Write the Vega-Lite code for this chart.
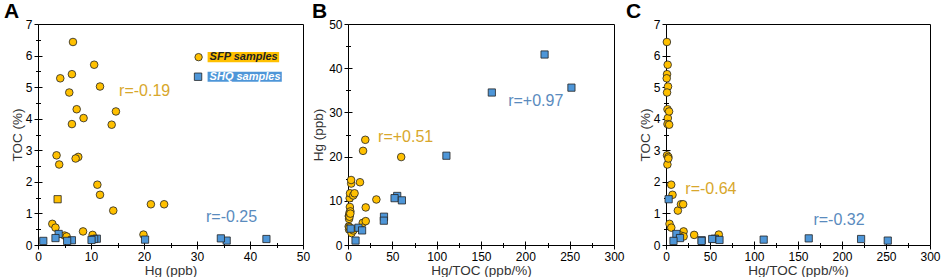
{
  "$schema": "https://vega.github.io/schema/vega-lite/v6.json",
  "padding": {"left": 3, "top": 0, "right": 0, "bottom": 0},
  "spacing": 0,
  "config": {
    "font": "Liberation Sans",
    "view": {"stroke": "#000000", "strokeWidth": 1},
    "axis": {"labelFont": "Liberation Sans", "labelFontSize": 12, "labelColor": "#000000", "titleFont": "Liberation Sans", "titleFontSize": 13.5, "titleFontWeight": "normal", "titleColor": "#333333", "tickColor": "#000000", "tickWidth": 1, "grid": false, "domain": false, "labelFlush": false, "labelOverlap": false, "format": "d"}
  },
  "datasets": {
    "samples": [
      {"g": "SFP", "hg": 6.6, "toc": 6.43, "ratio": 1.0},
      {"g": "SFP", "hg": 10.6, "toc": 5.71, "ratio": 1.9},
      {"g": "SFP", "hg": 6.4, "toc": 5.41, "ratio": 1.2},
      {"g": "SFP", "hg": 4.2, "toc": 5.28, "ratio": 0.8},
      {"g": "SFP", "hg": 11.7, "toc": 5.02, "ratio": 2.3},
      {"g": "SFP", "hg": 5.9, "toc": 4.83, "ratio": 1.2},
      {"g": "SFP", "hg": 7.3, "toc": 4.3, "ratio": 1.7},
      {"g": "SFP", "hg": 8.6, "toc": 4.02, "ratio": 2.1},
      {"g": "SFP", "hg": 6.4, "toc": 3.83, "ratio": 1.7},
      {"g": "SFP", "hg": 13.9, "toc": 3.81, "ratio": 3.6},
      {"g": "SFP", "hg": 14.7, "toc": 4.23, "ratio": 3.5},
      {"g": "SFP", "hg": 3.5, "toc": 2.84, "ratio": 1.2},
      {"g": "SFP", "hg": 4.0, "toc": 2.55, "ratio": 1.6},
      {"g": "SFP", "hg": 7.6, "toc": 2.79, "ratio": 2.7},
      {"g": "SFP", "hg": 7.1, "toc": 2.74, "ratio": 2.6},
      {"g": "SFP", "hg": 11.2, "toc": 1.91, "ratio": 5.9},
      {"g": "SFP", "hg": 11.7, "toc": 1.59, "ratio": 7.4},
      {"g": "SFP", "hg": 14.2, "toc": 1.09, "ratio": 13.5},
      {"g": "SFP", "hg": 21.3, "toc": 1.29, "ratio": 17.0},
      {"g": "SFP", "hg": 23.8, "toc": 1.29, "ratio": 19.5},
      {"g": "SFP", "hg": 2.7, "toc": 0.67, "ratio": 4.0},
      {"g": "SFP", "hg": 3.3, "toc": 0.55, "ratio": 6.0},
      {"g": "SFP", "hg": 8.5, "toc": 0.43, "ratio": 20.0},
      {"g": "SFP", "hg": 10.3, "toc": 0.32, "ratio": 32.0},
      {"g": "SFP", "hg": 19.9, "toc": 0.33, "ratio": 60.0},
      {"g": "SFP", "hg": 5.0, "toc": 0.3, "ratio": 16.6},
      {"g": "SFP", "hg": 5.4, "toc": 0.27, "ratio": 20.0},
      {"g": "SHQ", "hg": 43.1, "toc": 0.19, "ratio": 221.7},
      {"g": "SHQ", "hg": 35.6, "toc": 0.14, "ratio": 252.0},
      {"g": "SHQ", "hg": 34.5, "toc": 0.21, "ratio": 162.2},
      {"g": "SHQ", "hg": 20.2, "toc": 0.17, "ratio": 111.0},
      {"g": "SHQ", "hg": 11.1, "toc": 0.2, "ratio": 55.5},
      {"g": "SHQ", "hg": 10.6, "toc": 0.19, "ratio": 52.5},
      {"g": "SHQ", "hg": 10.1, "toc": 0.16, "ratio": 60.8},
      {"g": "SHQ", "hg": 6.4, "toc": 0.15, "ratio": 40.6},
      {"g": "SHQ", "hg": 5.5, "toc": 0.13, "ratio": 40.4},
      {"g": "SHQ", "hg": 3.9, "toc": 0.35, "ratio": 11.8},
      {"g": "SHQ", "hg": 3.3, "toc": 0.22, "ratio": 15.9},
      {"g": "SHQ", "hg": 3.7, "toc": 1.45, "ratio": 3.0},
      {"g": "SHQ", "hg": 1.0, "toc": 0.13, "ratio": 8.5}
    ],
    "notes": [
      {"panel": "A", "g": "SFP", "text": "r=-0.19", "x": 15.3, "y": 4.89},
      {"panel": "A", "g": "SHQ", "text": "r=-0.25", "x": 31.7, "y": 0.9},
      {"panel": "B", "g": "SFP", "text": "r=+0.51", "x": 33.9, "y": 24.4},
      {"panel": "B", "g": "SHQ", "text": "r=+0.97", "x": 180.6, "y": 32.6},
      {"panel": "C", "g": "SFP", "text": "r=-0.64", "x": 22, "y": 1.77},
      {"panel": "C", "g": "SHQ", "text": "r=-0.32", "x": 167.5, "y": 0.79}
    ],
    "legend": [
      {"g": "SFP", "label": "SFP samples", "sx": 30.3, "sy": 5.95, "x1": 32.0, "x2": 45.5, "y1": 5.79, "y2": 6.11, "ty": 5.95},
      {"g": "SHQ", "label": "SHQ samples", "sx": 30.2, "sy": 5.33, "x1": 32.0, "x2": 46.0, "y1": 5.17, "y2": 5.49, "ty": 5.33}
    ]
  },
  "hconcat": [
    {
      "width": 265, "height": 221,
      "title": {"text": "A", "anchor": "start", "frame": "group", "dx": -34, "offset": -4, "fontSize": 21, "fontWeight": "bold", "font": "Liberation Sans", "color": "#000000"},
      "resolve": {"axis": {"x": "independent", "y": "independent"}},
      "layer": [
        {
          "data": {"name": "samples"},
          "transform": [{"filter": "datum.g === 'SFP'"}],
          "mark": {"type": "point", "shape": "circle", "filled": true, "fill": "#FFC000", "stroke": "#222222", "strokeWidth": 0.8, "size": 58, "opacity": 1},
          "encoding": {
            "x": {"field": "hg", "type": "quantitative", "scale": {"domain": [0, 50], "nice": false, "zero": false},
              "axis": {"orient": "bottom", "title": "Hg (ppb)", "values": [0, 5, 10, 15, 20, 25, 30, 35, 40, 45, 50], "labelExpr": "datum.value % 10 === 0 ? datum.label : ''", "tickSize": {"condition": {"test": "datum.value % 10 === 0", "value": 4}, "value": 2.5}, "labelPadding": 2, "titlePadding": 1}},
            "y": {"field": "toc", "type": "quantitative", "scale": {"domain": [0, 7], "nice": false, "zero": false},
              "axis": {"orient": "left", "title": "TOC (%)", "values": [0, 0.5, 1, 1.5, 2, 2.5, 3, 3.5, 4, 4.5, 5, 5.5, 6, 6.5, 7], "labelExpr": "datum.value % 1 === 0 ? datum.label : ''", "tickSize": {"condition": {"test": "datum.value % 1 === 0", "value": 4}, "value": 2.5}, "labelPadding": 2, "titlePadding": 1}}
          }
        },
        {
          "data": {"name": "samples"},
          "transform": [{"filter": "datum.g === 'SHQ'"}],
          "mark": {"type": "point", "shape": "square", "filled": true, "stroke": "#222222", "strokeWidth": 0.8, "size": 52, "opacity": 1},
          "encoding": {
            "x": {"field": "hg", "type": "quantitative", "scale": {"domain": [0, 50], "nice": false, "zero": false},
              "axis": {"orient": "bottom", "title": null, "labels": false, "values": [0, 5, 10, 15, 20, 25, 30, 35, 40, 45, 50], "tickSize": {"condition": {"test": "datum.value % 10 === 0", "value": -4}, "value": -2.5}}},
            "y": {"field": "toc", "type": "quantitative", "scale": {"domain": [0, 7], "nice": false, "zero": false},
              "axis": {"orient": "left", "title": null, "labels": false, "values": [0, 0.5, 1, 1.5, 2, 2.5, 3, 3.5, 4, 4.5, 5, 5.5, 6, 6.5, 7], "tickSize": {"condition": {"test": "datum.value % 1 === 0", "value": -4}, "value": -2.5}}},
            "fill": {"condition": {"test": "datum.toc > 1", "value": "#FFC000"}, "value": "#4E96D8"}
          }
        },
        {
          "data": {"name": "legend"},
          "mark": {"type": "rect"},
          "encoding": {
            "x": {"field": "x1", "type": "quantitative", "axis": null},
            "x2": {"field": "x2"},
            "y": {"field": "y1", "type": "quantitative", "axis": null},
            "y2": {"field": "y2"},
            "fill": {"condition": {"test": "datum.g === 'SFP'", "value": "#FFC000"}, "value": "#4E96D8"}
          }
        },
        {
          "data": {"name": "legend"},
          "mark": {"type": "point", "filled": true, "stroke": "#222222", "strokeWidth": 0.8, "size": 55, "opacity": 1},
          "encoding": {
            "x": {"field": "sx", "type": "quantitative", "axis": null},
            "y": {"field": "sy", "type": "quantitative", "axis": null},
            "shape": {"field": "g", "type": "nominal", "scale": {"domain": ["SFP", "SHQ"], "range": ["circle", "square"]}, "legend": null},
            "fill": {"condition": {"test": "datum.g === 'SFP'", "value": "#FFC000"}, "value": "#4E96D8"}
          }
        },
        {
          "data": {"name": "legend"},
          "mark": {"type": "text", "align": "left", "baseline": "middle", "dx": 2, "fontSize": 11, "fontWeight": "bold", "fontStyle": "italic", "font": "Liberation Sans"},
          "encoding": {
            "x": {"field": "x1", "type": "quantitative", "axis": null},
            "y": {"field": "ty", "type": "quantitative", "axis": null},
            "text": {"field": "label"},
            "color": {"condition": {"test": "datum.g === 'SFP'", "value": "#222222"}, "value": "#ffffff"}
          }
        },
        {
          "data": {"name": "notes"},
          "transform": [{"filter": "datum.panel === 'A'"}],
          "mark": {"type": "text", "align": "left", "baseline": "middle", "fontSize": 16, "font": "Liberation Sans"},
          "encoding": {
            "x": {"field": "x", "type": "quantitative", "axis": null},
            "y": {"field": "y", "type": "quantitative", "axis": null},
            "text": {"field": "text"},
            "color": {"condition": {"test": "datum.g === 'SFP'", "value": "#D8A72C"}, "value": "#5A8BBE"}
          }
        }
      ]
    },
    {
      "width": 266, "height": 221,
      "title": {"text": "B", "anchor": "start", "frame": "group", "dx": -36, "offset": -4, "fontSize": 21, "fontWeight": "bold", "font": "Liberation Sans", "color": "#000000"},
      "resolve": {"axis": {"x": "independent", "y": "independent"}},
      "layer": [
        {
          "data": {"name": "samples"},
          "transform": [{"filter": "datum.g === 'SFP'"}],
          "mark": {"type": "point", "shape": "circle", "filled": true, "fill": "#FFC000", "stroke": "#222222", "strokeWidth": 0.8, "size": 58, "opacity": 1},
          "encoding": {
            "x": {"field": "ratio", "type": "quantitative", "scale": {"domain": [0, 300], "nice": false, "zero": false},
              "axis": {"orient": "bottom", "title": "Hg/TOC (ppb/%)", "values": [0, 25, 50, 75, 100, 125, 150, 175, 200, 225, 250, 275, 300], "labelExpr": "datum.value % 50 === 0 ? datum.label : ''", "tickSize": {"condition": {"test": "datum.value % 50 === 0", "value": 4}, "value": 2.5}, "labelPadding": 2, "titlePadding": 1}},
            "y": {"field": "hg", "type": "quantitative", "scale": {"domain": [0, 50], "nice": false, "zero": false},
              "axis": {"orient": "left", "title": "Hg (ppb)", "values": [0, 5, 10, 15, 20, 25, 30, 35, 40, 45, 50], "labelExpr": "datum.value % 10 === 0 ? datum.label : ''", "tickSize": {"condition": {"test": "datum.value % 10 === 0", "value": 4}, "value": 2.5}, "labelPadding": 2, "titlePadding": 3}}
          }
        },
        {
          "data": {"name": "samples"},
          "transform": [{"filter": "datum.g === 'SHQ'"}],
          "mark": {"type": "point", "shape": "square", "filled": true, "fill": "#4E96D8", "stroke": "#222222", "strokeWidth": 0.8, "size": 52, "opacity": 1},
          "encoding": {
            "x": {"field": "ratio", "type": "quantitative", "scale": {"domain": [0, 300], "nice": false, "zero": false},
              "axis": {"orient": "bottom", "title": null, "labels": false, "values": [0, 25, 50, 75, 100, 125, 150, 175, 200, 225, 250, 275, 300], "tickSize": {"condition": {"test": "datum.value % 50 === 0", "value": -4}, "value": -2.5}}},
            "y": {"field": "hg", "type": "quantitative", "scale": {"domain": [0, 50], "nice": false, "zero": false},
              "axis": {"orient": "left", "title": null, "labels": false, "values": [0, 5, 10, 15, 20, 25, 30, 35, 40, 45, 50], "tickSize": {"condition": {"test": "datum.value % 10 === 0", "value": -4}, "value": -2.5}}}
          }
        },
        {
          "data": {"name": "notes"},
          "transform": [{"filter": "datum.panel === 'B'"}],
          "mark": {"type": "text", "align": "left", "baseline": "middle", "fontSize": 16, "font": "Liberation Sans"},
          "encoding": {
            "x": {"field": "x", "type": "quantitative", "axis": null},
            "y": {"field": "y", "type": "quantitative", "axis": null},
            "text": {"field": "text"},
            "color": {"condition": {"test": "datum.g === 'SFP'", "value": "#D8A72C"}, "value": "#5A8BBE"}
          }
        }
      ]
    },
    {
      "width": 264, "height": 221,
      "title": {"text": "C", "anchor": "start", "frame": "group", "dx": -40, "offset": -4, "fontSize": 21, "fontWeight": "bold", "font": "Liberation Sans", "color": "#000000"},
      "resolve": {"axis": {"x": "independent", "y": "independent"}},
      "layer": [
        {
          "data": {"name": "samples"},
          "transform": [{"filter": "datum.g === 'SFP'"}],
          "mark": {"type": "point", "shape": "circle", "filled": true, "fill": "#FFC000", "stroke": "#222222", "strokeWidth": 0.8, "size": 58, "opacity": 1},
          "encoding": {
            "x": {"field": "ratio", "type": "quantitative", "scale": {"domain": [0, 300], "nice": false, "zero": false},
              "axis": {"orient": "bottom", "title": "Hg/TOC (ppb/%)", "values": [0, 25, 50, 75, 100, 125, 150, 175, 200, 225, 250, 275, 300], "labelExpr": "datum.value % 50 === 0 ? datum.label : ''", "tickSize": {"condition": {"test": "datum.value % 50 === 0", "value": 4}, "value": 2.5}, "labelPadding": 2, "titlePadding": 1}},
            "y": {"field": "toc", "type": "quantitative", "scale": {"domain": [0, 7], "nice": false, "zero": false},
              "axis": {"orient": "left", "title": "TOC (%)", "values": [0, 0.5, 1, 1.5, 2, 2.5, 3, 3.5, 4, 4.5, 5, 5.5, 6, 6.5, 7], "labelExpr": "datum.value % 1 === 0 ? datum.label : ''", "tickSize": {"condition": {"test": "datum.value % 1 === 0", "value": 4}, "value": 2.5}, "labelPadding": 2, "titlePadding": 1}}
          }
        },
        {
          "data": {"name": "samples"},
          "transform": [{"filter": "datum.g === 'SHQ'"}],
          "mark": {"type": "point", "shape": "square", "filled": true, "fill": "#4E96D8", "stroke": "#222222", "strokeWidth": 0.8, "size": 52, "opacity": 1},
          "encoding": {
            "x": {"field": "ratio", "type": "quantitative", "scale": {"domain": [0, 300], "nice": false, "zero": false},
              "axis": {"orient": "bottom", "title": null, "labels": false, "values": [0, 25, 50, 75, 100, 125, 150, 175, 200, 225, 250, 275, 300], "tickSize": {"condition": {"test": "datum.value % 50 === 0", "value": -4}, "value": -2.5}}},
            "y": {"field": "toc", "type": "quantitative", "scale": {"domain": [0, 7], "nice": false, "zero": false},
              "axis": {"orient": "left", "title": null, "labels": false, "values": [0, 0.5, 1, 1.5, 2, 2.5, 3, 3.5, 4, 4.5, 5, 5.5, 6, 6.5, 7], "tickSize": {"condition": {"test": "datum.value % 1 === 0", "value": -4}, "value": -2.5}}}
          }
        },
        {
          "data": {"name": "notes"},
          "transform": [{"filter": "datum.panel === 'C'"}],
          "mark": {"type": "text", "align": "left", "baseline": "middle", "fontSize": 16, "font": "Liberation Sans"},
          "encoding": {
            "x": {"field": "x", "type": "quantitative", "axis": null},
            "y": {"field": "y", "type": "quantitative", "axis": null},
            "text": {"field": "text"},
            "color": {"condition": {"test": "datum.g === 'SFP'", "value": "#D8A72C"}, "value": "#5A8BBE"}
          }
        }
      ]
    }
  ]
}
